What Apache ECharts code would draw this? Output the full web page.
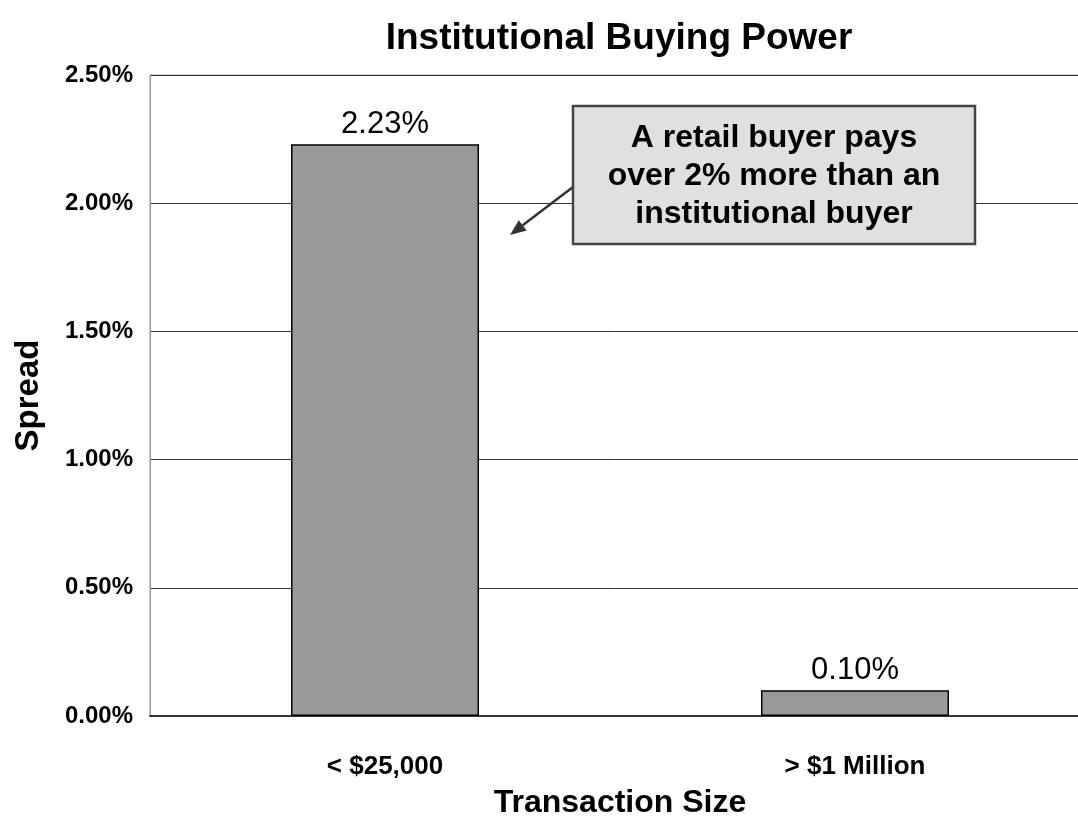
<!DOCTYPE html>
<html>
<head>
<meta charset="utf-8">
<script src="https://cdn.jsdelivr.net/npm/echarts@6/dist/echarts.min.js"></script>
<style>
  html, body { margin: 0; padding: 0; background: #fff; }
  #chart { width: 1078px; height: 837px; }
</style>
</head>
<body>
<div id="chart"></div>
<script>
// data (percent)
var categories = ['< $25,000', '> $1 Million']
var spread = [2.23, 0.10]
var yTicks = [0, 0.5, 1, 1.5, 2, 2.5]

var chart = echarts.init(document.getElementById('chart'))
var font = '"Liberation Sans", Arial, sans-serif'

// arrow from box to first bar
var ax0 = 573, ay0 = 187, ax1 = 510, ay1 = 235
var dx = ax1 - ax0, dy = ay1 - ay0
var len = Math.sqrt(dx * dx + dy * dy)
var ux = dx / len, uy = dy / len
var bx = ax1 - ux * 16, by = ay1 - uy * 16
var px = -uy * 6.5, py = ux * 6.5

chart.setOption({
  animation: false,
  textStyle: { fontFamily: font },
  title: {
    text: 'Institutional Buying Power',
    left: 614,
    top: 15,
    textAlign: 'center',
    textStyle: { fontSize: 37, fontWeight: 'bold', color: '#000', fontFamily: font }
  },
  grid: {
    left: 150,
    top: 75,
    width: 940,
    bottom: 121,
    outerBoundsMode: 'none',
    show: true,
    borderColor: '#999',
    borderWidth: 1
  },
  xAxis: {
    type: 'category',
    data: categories,
    name: 'Transaction Size',
    nameLocation: 'middle',
    nameGap: 71,
    nameTextStyle: { fontSize: 32, fontWeight: 'bold', color: '#000', fontFamily: font },
    axisLine: { lineStyle: { color: '#333', width: 2 } },
    axisTick: { length: 9, lineStyle: { color: '#333' } },
    axisLabel: { fontSize: 26, fontWeight: 'bold', color: '#000', margin: 38, fontFamily: font }
  },
  yAxis: {
    type: 'value',
    min: yTicks[0],
    max: yTicks[yTicks.length - 1],
    interval: 0.5,
    name: 'Spread',
    nameLocation: 'middle',
    nameGap: 105,
    nameTextStyle: { fontSize: 33, fontWeight: 'bold', color: '#000', fontFamily: font },
    axisLine: { show: true, lineStyle: { color: '#999' } },
    axisTick: { show: false },
    axisLabel: {
      fontSize: 24, fontWeight: 'bold', color: '#000', margin: 17, fontFamily: font,
      formatter: function (v) { return v.toFixed(2) + '%' }
    },
    splitLine: { lineStyle: { color: '#333', width: 1 } }
  },
  series: [
    {
      type: 'bar',
      data: spread,
      barWidth: '40%',
      itemStyle: { color: '#999999', borderColor: '#000', borderWidth: 1.5 },
      label: {
        show: true,
        position: 'top',
        distance: 4,
        fontSize: 31,
        color: '#000',
        fontFamily: font,
        formatter: function (p) { return p.value.toFixed(2) + '%' }
      }
    }
  ],
  graphic: [
    {
      type: 'line',
      shape: { x1: ax0, y1: ay0, x2: bx, y2: by },
      style: { stroke: '#333', lineWidth: 2.5 },
      z: 100
    },
    {
      type: 'polygon',
      shape: { points: [[ax1, ay1], [bx + px, by + py], [bx - px, by - py]] },
      style: { fill: '#333' },
      z: 100
    },
    {
      type: 'rect',
      shape: { x: 573, y: 106, width: 402, height: 138 },
      style: { fill: '#dfe0e2', stroke: '#444', lineWidth: 2.5 },
      z: 100
    },
    {
      type: 'text',
      x: 774,
      y: 176,
      style: {
        text: 'A retail buyer pays\nover 2% more than an\ninstitutional buyer',
        font: 'bold 32px ' + font,
        fill: '#000',
        align: 'center',
        verticalAlign: 'middle',
        lineHeight: 38
      },
      z: 101
    }
  ]
})
</script>
</body>
</html>
